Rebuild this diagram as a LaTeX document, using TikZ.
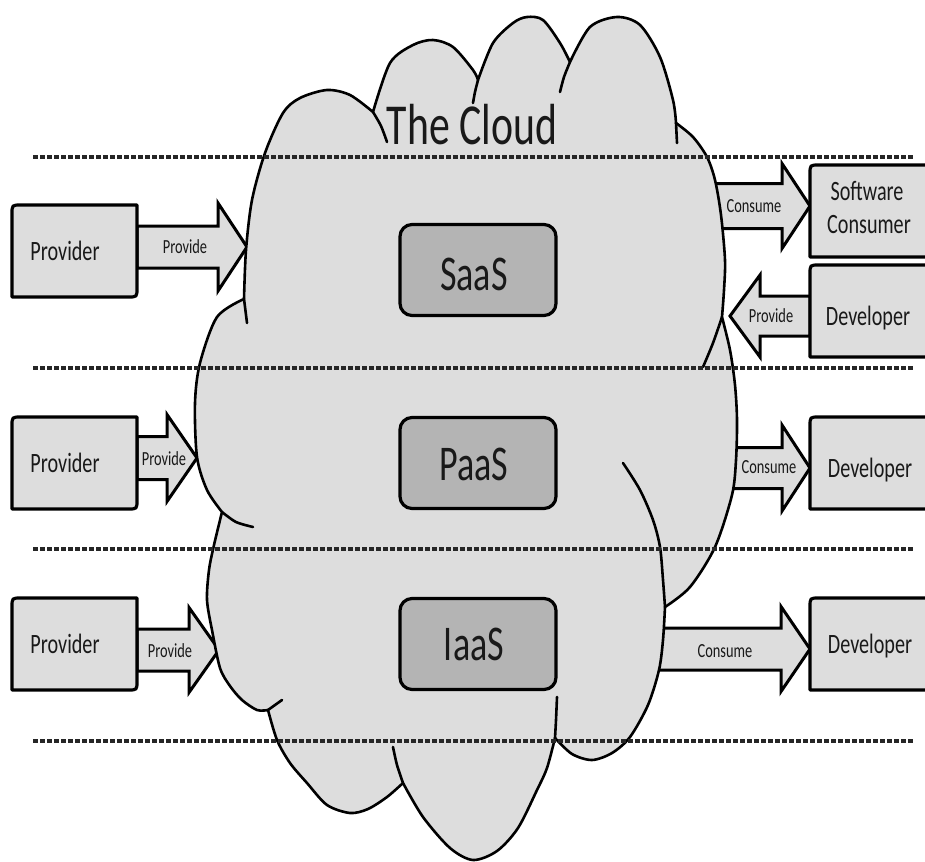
\documentclass[tikz,border=0pt]{standalone}
\usepackage{fontspec}
\setmainfont{Carlito}[FakeStretch=0.72]
\usetikzlibrary{calc}

\definecolor{cloudfill}{RGB}{221,221,221}
\definecolor{boxfill}{RGB}{221,221,221}
\definecolor{tierfill}{RGB}{180,180,180}
\definecolor{ink}{RGB}{25,25,25}

\tikzset{
  cloudedge/.style={draw=black, line width=2.6pt, line join=round, line cap=round},
  boxedge/.style={fill=boxfill, draw=black, line width=3.2pt, line join=round},
  arrowedge/.style={fill=boxfill, draw=black, line width=3pt, line join=miter},
  sidebox/.style={minimum width=125pt, minimum height=92pt, inner sep=0pt, outer sep=0pt},
  farbox/.style={minimum width=190pt, minimum height=92pt, inner sep=0pt, outer sep=0pt},
  tierbox/.style={minimum width=156pt, minimum height=91pt, inner sep=0pt, outer sep=0pt,
    draw=black, fill=tierfill, line width=3.2pt, rounded corners=12pt},
  sidelbl/.style={anchor=base, text=ink, inner sep=0pt, font=\fontsize{28}{34}\selectfont},
  arrlbl/.style={anchor=base, text=ink, inner sep=0pt, font=\fontsize{20}{24}\selectfont},
  tierlbl/.style={anchor=base, text=ink, inner sep=0pt, font=\fontsize{50}{56}\selectfont},
  titlelbl/.style={anchor=base, text=ink, inner sep=0pt, font=\fontsize{58}{64}\selectfont},
  sepline/.style={draw=black!85, line width=3.6pt, dash pattern=on 5pt off 2pt},
}

% block arrow: start, tip, head length, half shaft width, half head width
\newcommand\blockarrow[5]{%
  \path ($(#2)!#3!(#1)$) coordinate (hb);
  \filldraw[arrowedge] ($(#1)+(0,-#4)$) -- ($(hb)+(0,-#4)$) -- ($(hb)+(0,-#5)$)
    -- (#2) -- ($(hb)+(0,#5)$) -- ($(hb)+(0,#4)$) -- ($(#1)+(0,#4)$) -- cycle;}

% box outline with the top-left and bottom-right corners rounded
\newcommand\diagframe[2]{%
  \filldraw[boxedge] ($(#1.north west)+(#2,0)$) -- (#1.north east)
    -- ($(#1.south east)+(0,-#2)$) .. controls (#1.south east) .. ($(#1.south east)+(-#2,0)$)
    -- (#1.south west) -- ($(#1.north west)+(0,#2)$)
    .. controls (#1.north west) .. ($(#1.north west)+(#2,0)$) -- cycle;}

\begin{document}
\begin{tikzpicture}[x=1pt, y=-1pt]
\useasboundingbox (0,0) rectangle (925,861);
\clip (0,0) rectangle (925,861);

% side boxes (placed first so the arrows can refer to them)
\node[sidebox] (prov1) at (74.5,251) {};
\node[sidebox] (prov2) at (74.5,463) {};
\node[sidebox] (prov3) at (74.5,644) {};
\node[farbox] (soft) at (905,211) {};
\node[farbox] (dev1) at (905,311) {};
\node[farbox] (dev2) at (905,463) {};
\node[farbox] (dev3) at (905,644) {};

% points where the arrows meet the cloud
\coordinate (t1) at (247,247);
\coordinate (t2) at (197,458);
\coordinate (t3) at (219,650);
\coordinate (c1) at (700,206);
\coordinate (t4) at (730,316);
\coordinate (c2) at (725,468);
\coordinate (c3) at (640,649);

% block arrows, behind the cloud
\blockarrow{prov1.east |- t1}{t1}{29pt}{21}{44}
\blockarrow{prov2.east |- t2}{t2}{30pt}{21.5}{43.5}
\blockarrow{prov3.east |- t3}{t3}{30pt}{21}{42.5}
\blockarrow{c1}{soft.west |- c1}{28pt}{22.5}{42.5}
\blockarrow{dev1.west |- t4}{t4}{30pt}{20}{41}
\blockarrow{c2}{dev2.west |- c2}{28pt}{20.5}{43}
\blockarrow{c3}{dev3.west |- c3}{29pt}{21}{42.5}

% the cloud: outer outline made of bumps
\filldraw[cloudedge, fill=cloudfill]
  plot[smooth] coordinates {(244,299) (246,250) (252,200) (265,153) (283,113) (300,98) (327,90) (350,95) (373,112)}
  -- plot[smooth] coordinates {(373,112) (390,63) (413,45) (433,40) (453,47) (473,70) (478,80)}
  -- plot[smooth] coordinates {(478,80) (493,43) (513,23) (527,17) (543,20) (560,43) (570,62)}
  -- plot[smooth] coordinates {(570,62) (590,27) (617,17) (640,25) (660,57) (673,100) (676,123)}
  -- plot[smooth] coordinates {(676,123) (693,137) (707,157) (715,180) (721,215) (725,260) (724,290) (722,317)}
  -- plot[smooth] coordinates {(722,317) (730,350) (735,385) (737,420) (736,460) (732,495) (715,547) (690,587) (665,607)}
  -- plot[smooth] coordinates {(665,607) (663,640) (659,670) (648,705) (630,737) (612,753) (592,760) (572,754) (555,738)}
  -- plot[smooth] coordinates {(555,738) (547,768) (537,790) (518,828) (497,851) (473,860) (450,848) (423,817) (403,783)}
  -- plot[smooth] coordinates {(403,783) (387,797) (368,809) (350,813) (327,805) (307,783) (290,763) (277,740) (268,710)}
  -- plot[smooth] coordinates {(268,710) (257,710) (242,700) (230,686) (220,668) (212,630) (207,600) (209,570) (214,545) (222,512)}
  -- plot[smooth] coordinates {(222,512) (207,490) (197,457) (195,403) (200,363) (217,317) (244,299)}
  -- cycle;

% inner ends of the bumps
\draw[cloudedge] plot[smooth] coordinates {(373,112) (381,126) (387,142)};
\draw[cloudedge] plot[smooth] coordinates {(478,80) (475,92) (473,103)};
\draw[cloudedge] plot[smooth] coordinates {(570,62) (564,77) (560,92)};
\draw[cloudedge] (676,123) -- (677,143);
\draw[cloudedge] plot[smooth] coordinates {(722,317) (713,343) (703,367)};
\draw[cloudedge] plot[smooth] coordinates {(623,463) (640,490) (653,520) (660,547) (663,580) (665,607)};
\draw[cloudedge] plot[smooth] coordinates {(557,697) (556,720) (555,738)};
\draw[cloudedge] plot[smooth] coordinates {(403,783) (397,765) (393,747)};
\draw[cloudedge] (268,710) -- (282,700);
\draw[cloudedge] plot[smooth] coordinates {(222,512) (236,522) (253,527)};
\draw[cloudedge] (244,299) -- (247,323);

% service tiers
\node[tierbox] (saas) at (478,270) {};
\node[tierbox] (paas) at (478,463) {};
\node[tierbox] (iaas) at (478,644) {};

% side box frames
\diagframe{prov1}{9}
\diagframe{prov2}{9}
\diagframe{prov3}{9}
\diagframe{soft}{9}
\diagframe{dev1}{9}
\diagframe{dev2}{9}
\diagframe{dev3}{9}

% texts
\node[titlelbl] (title) at (472,145) {The Cloud};
\node[tierlbl] (lsaas) at (474,290) {SaaS};
\node[tierlbl] (lpaas) at (474,480) {PaaS};
\node[tierlbl] (liaas) at (474,660) {IaaS};

\node[sidelbl] (lprov1) at (65,260) {Provider};
\node[sidelbl] (lprov2) at (65,472) {Provider};
\node[sidelbl] (lprov3) at (65,653) {Provider};
\node[sidelbl] (lsoft1) at (867,200) {Software};
\node[sidelbl] (lsoft2) at (869,233) {Consumer};
\node[sidelbl] (ldev1) at (868,325) {Developer};
\node[sidelbl] (ldev2) at (870,477) {Developer};
\node[sidelbl] (ldev3) at (870,653) {Developer};

\node[arrlbl] (a1) at (185,253) {Provide};
\node[arrlbl] (a2) at (164,465) {Provide};
\node[arrlbl] (a3) at (170,657) {Provide};
\node[arrlbl] (a4) at (754,212) {Consume};
\node[arrlbl] (a5) at (771,322) {Provide};
\node[arrlbl] (a6) at (769,473) {Consume};
\node[arrlbl] (a7) at (725,657) {Consume};

% layer separators
\draw[sepline] (33,157) -- (913,157);
\draw[sepline] (33,368) -- (913,368);
\draw[sepline] (33,549) -- (913,549);
\draw[sepline] (33,741) -- (913,741);
\end{tikzpicture}
\end{document}
